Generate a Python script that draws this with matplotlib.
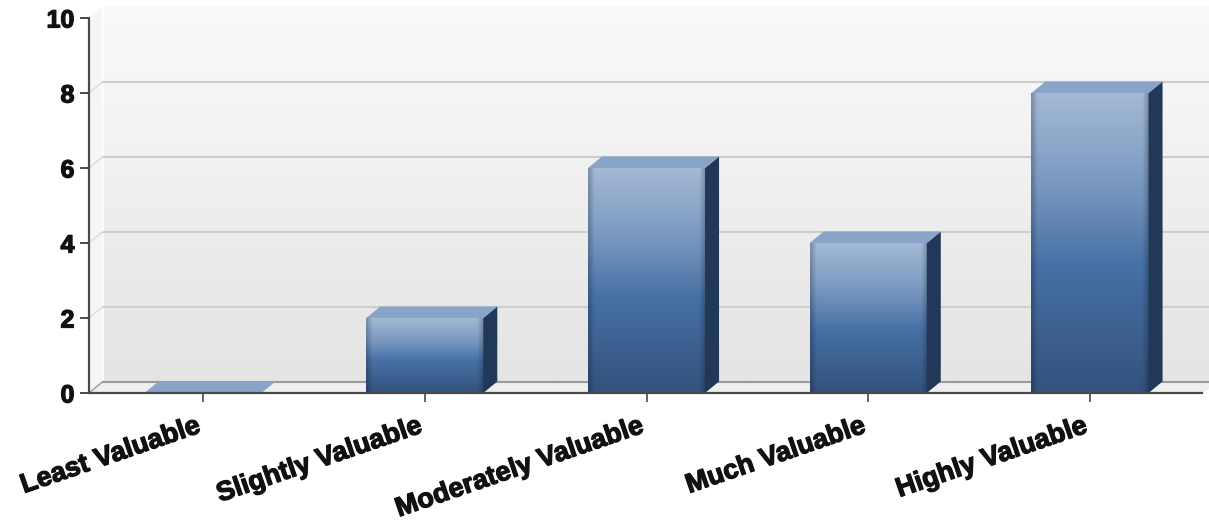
import numpy as np
import matplotlib
matplotlib.use('Agg')
import matplotlib.pyplot as plt
import matplotlib.patheffects as pe
import matplotlib.transforms as mtransforms
from matplotlib.colors import LinearSegmentedColormap
from matplotlib.patches import Polygon

plt.rcParams['font.family'] = ['Liberation Sans', 'DejaVu Sans']

# 数据
categories = ['Least Valuable', 'Slightly Valuable', 'Moderately Valuable',
              'Much Valuable', 'Highly Valuable']
counts = [0, 2, 6, 4, 8]
y_ticks = [0, 2, 4, 6, 8, 10]

W, H = 1209, 525
fig = plt.figure(figsize=(W / 100, H / 100), dpi=100)

# 坐标区 (像素定位)
px_left, px_right, px_bottom, px_top = 89, 1209, 393, 6.5
ax = fig.add_axes([px_left / W, (H - px_bottom) / H,
                   (px_right - px_left) / W, (px_bottom - px_top) / H])

step = 221.75          # 每个类别的像素宽度
unit = 37.5            # y 方向每单位像素
x_lo = -(203 - px_left) / step
x_hi = (px_right - 203) / step
x_axis_end = (1202 - 203) / step
ddx, ddy = 14 / step, 11.5 / unit   # 立体深度
y_top = 10 + ddy
hw = 0.264

# 背景墙渐变
wall_cmap = LinearSegmentedColormap.from_list('wall', ['#fafafa', '#e4e4e4'])
grad = np.linspace(0, 1, 256).reshape(-1, 1)
ax.imshow(grad, cmap=wall_cmap, extent=[x_lo + ddx, x_hi, ddy, y_top],
          aspect='auto', origin='upper', zorder=0)

# 左侧墙与地面
ax.add_patch(Polygon([(x_lo, 0), (x_lo + ddx, ddy), (x_lo + ddx, y_top), (x_lo, 10)],
                     closed=True, fc='#f6f6f6', ec='none', zorder=0.5))
ax.add_patch(Polygon([(x_lo, 0), (x_axis_end, 0), (x_hi + ddx, ddy), (x_lo + ddx, ddy)],
                     closed=True, fc='#efefef', ec='none', zorder=0.5))
ax.plot([x_lo + ddx, x_lo + ddx], [ddy, y_top], color='#ffffff', lw=1.2, zorder=0.6)

# 网格线
for v in y_ticks[1:-1]:
    ax.plot([x_lo + ddx, x_hi], [v + ddy, v + ddy], color='#cdcdcd', lw=1.5, zorder=0.7)
    ax.plot([x_lo, x_lo + ddx], [v, v + ddy], color='#dcdcdc', lw=1.0, zorder=0.7)
ax.plot([x_lo + ddx, x_hi], [ddy, ddy], color='#9a9a9a', lw=1.5, zorder=0.7)
ax.plot([x_lo, x_lo + ddx], [0, ddy], color='#9a9a9a', lw=1.0, zorder=0.7)

# 柱子正面渐变
stops = [(0.0, '#a3b9d5'), (0.3, '#7a99c1'), (0.58, '#4670a4'), (1.0, '#33527e')]
face_cmap = LinearSegmentedColormap.from_list('face', stops)
rows = face_cmap(np.linspace(0, 1, 256))[:, :3]
cols = np.linspace(0, 1, 64)
edge = 1 - 0.22 * (np.clip(1 - cols / 0.05, 0, 1) + np.clip(1 - (1 - cols) / 0.05, 0, 1))
face_img = rows[:, None, :] * edge[None, :, None]

side_color = '#223858'
top_color = '#88a4c8'

for i, v in enumerate(counts):
    x0, x1 = i - hw, i + hw
    if v > 0:
        ax.imshow(face_img, extent=[x0, x1, 0, v], aspect='auto',
                  origin='upper', zorder=2, interpolation='bilinear')
        ax.add_patch(Polygon([(x1, 0), (x1 + ddx, ddy), (x1 + ddx, v + ddy), (x1, v)],
                             closed=True, fc=side_color, ec='none', zorder=2))
    ax.add_patch(Polygon([(x0, v), (x1, v), (x1 + ddx, v + ddy), (x0 + ddx, v + ddy)],
                         closed=True, fc=top_color, ec='none', zorder=2.1))

ax.set_xlim(x_lo, x_hi)
ax.set_ylim(0, y_top)

# 坐标轴
for s in ['top', 'right']:
    ax.spines[s].set_visible(False)
ax.spines['left'].set_bounds(0, 10)
ax.spines['bottom'].set_bounds(x_lo, x_axis_end)
for s in ['left', 'bottom']:
    ax.spines[s].set_color('#4a4a4a')
    ax.spines[s].set_linewidth(1.6)
    ax.spines[s].set_zorder(3)

heavy = [pe.withStroke(linewidth=0.9, foreground='#111111')]

ax.set_yticks(y_ticks)
ax.set_yticklabels([str(t) for t in y_ticks], fontsize=18, fontweight='bold', color='#111111',
                   path_effects=heavy)
ax.set_xticks(range(len(categories)))
ax.set_xticklabels(categories, fontsize=19.5, fontweight='bold', color='#111111',
                   rotation=19, ha='right', rotation_mode='anchor', path_effects=heavy)
ax.tick_params(axis='y', length=6.5, width=1.4, color='#4a4a4a', pad=4)
ax.tick_params(axis='x', length=6.5, width=1.2, color='#4a4a4a', pad=8)

# 标签向左微移
shift = mtransforms.ScaledTranslation(-8 / 100, 0, fig.dpi_scale_trans)
for lbl in ax.get_xticklabels():
    lbl.set_transform(lbl.get_transform() + shift)

fig.savefig('out.png', dpi=100, facecolor='white')
